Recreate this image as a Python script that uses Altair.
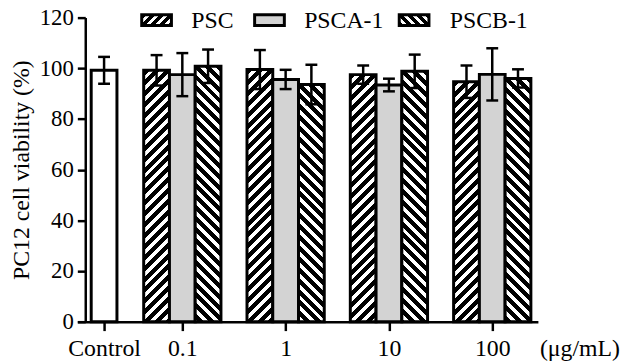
import altair as alt
import pandas as pd

# ---------------- data ----------------
doses = ["0.1", "1", "10", "100"]
series = ["PSC", "PSCA-1", "PSCB-1"]
control_mean = 99.2
control_sd = 5.3
psc_mean = [99.2, 99.5, 97.5, 94.7]
psc_sd = [6.0, 7.7, 3.6, 6.4]
psca_mean = [97.5, 95.6, 93.4, 97.6]
psca_sd = [8.5, 3.8, 2.5, 10.3]
pscb_mean = [100.8, 93.6, 98.8, 96.0]
pscb_sd = [6.6, 7.8, 6.6, 3.6]
tick_labels = ["Control"] + doses
unit_label = "(μg/mL)"
y_title = "PC12 cell viability (%)"
y_ticks = [0, 20, 40, 60, 80, 100, 120]

# ---------------- layout ----------------
W, H = 465, 307
YMAX = 120
CTRL_POS = 27
GROUP0 = 106
GROUP_STEP = 104.3
BAR_W = 26
CAP = 6
FONT = "Liberation Serif"
FS = 24
FS_Y = 23
LW = 2.5

means = [psc_mean, psca_mean, pscb_mean]
sds = [psc_sd, psca_sd, pscb_sd]
rows = [dict(label="Control", series="Control", mean=control_mean, sd=control_sd, center=CTRL_POS)]
for i, d in enumerate(doses):
    c = GROUP0 + GROUP_STEP * i
    for j, s in enumerate(series):
        rows.append(dict(label=d, series=s, mean=means[j][i], sd=sds[j][i], center=c + (j - 1) * BAR_W))
df = pd.DataFrame(rows)
df["x1"] = df["center"] - BAR_W / 2
df["x2"] = df["center"] + BAR_W / 2
df["lo"] = df["mean"] - df["sd"]
df["hi"] = df["mean"] + df["sd"]
df["c1"] = df["center"] - CAP
df["c2"] = df["center"] + CAP

tick_pos = [CTRL_POS] + [GROUP0 + GROUP_STEP * i for i in range(len(doses))]
expr = "''"
for k in range(len(tick_pos) - 1, -1, -1):
    if k == len(tick_pos) - 1:
        expr = f"'{tick_labels[k]}'"
    else:
        mid = (tick_pos[k] + tick_pos[k + 1]) / 2
        expr = f"datum.value < {mid:.2f} ? '{tick_labels[k]}' : ({expr})"


def hatch(w, h, direction, period=11.0, black=0.55):
    r = h / w
    gx = (1 + r) / (1 + r * r)
    gy = gx * r
    q = period / (w + h)
    stops = []
    t = 0.0
    while t < 1:
        a = round(t, 5)
        b = round(min(t + q * black, 1), 5)
        c = round(min(t + q, 1), 5)
        stops += [alt.GradientStop(offset=a, color="black"),
                  alt.GradientStop(offset=b, color="black"),
                  alt.GradientStop(offset=b, color="white"),
                  alt.GradientStop(offset=c, color="white")]
        t += q
    if direction == "/":
        x1, y1, x2, y2 = 0, 0, gx, gy
    else:
        x1, y1, x2, y2 = 1, 0, 1 - gx, gy
    return alt.LinearGradient(gradient="linear", stops=stops, x1=x1, y1=y1, x2=x2, y2=y2)


def fill_for(series_name, w, h, period=11.0):
    if series_name == "PSC":
        return hatch(w, h, "/", period)
    if series_name == "PSCB-1":
        return hatch(w, h, "\\", period)
    if series_name == "PSCA-1":
        return "#d3d3d3"
    return "white"


x_axis = alt.Axis(values=tick_pos, labelExpr=expr, title=None, tickSize=9, labelPadding=6,
                  labelFontSize=FS, labelFlush=False, labelOverlap=False, grid=False)
y_axis = alt.Axis(values=y_ticks, title=y_title, tickSize=8, labelPadding=4, labelFlush=False,
                  labelFontSize=FS_Y, titleFontSize=FS, offset=-8, grid=False, titlePadding=6)
x_scale = alt.Scale(domain=[0, W], nice=False, zero=False)
y_scale = alt.Scale(domain=[0, YMAX], nice=False)

layers = []
for k in range(len(df)):
    row = df.iloc[[k]]
    h = row["mean"].iloc[0] / YMAX * H
    layers.append(
        alt.Chart(row).mark_rect(fill=fill_for(row["series"].iloc[0], BAR_W, h), stroke="black",
                                 strokeWidth=3).encode(
            x=alt.X("x1:Q", scale=x_scale, axis=x_axis),
            x2="x2:Q",
            y=alt.Y("mean:Q", scale=y_scale, axis=y_axis),
            y2=alt.datum(0),
        )
    )

base = alt.Chart(df)
err = base.mark_rule(color="black", strokeWidth=LW).encode(
    x=alt.X("center:Q", scale=x_scale, axis=x_axis), y=alt.Y("lo:Q", scale=y_scale, axis=y_axis), y2="hi:Q")
cap_hi = base.mark_rule(color="black", strokeWidth=LW).encode(
    x=alt.X("c1:Q", scale=x_scale, axis=x_axis), x2="c2:Q", y=alt.Y("hi:Q", scale=y_scale, axis=y_axis))
cap_lo = base.mark_rule(color="black", strokeWidth=LW).encode(
    x=alt.X("c1:Q", scale=x_scale, axis=x_axis), x2="c2:Q", y=alt.Y("lo:Q", scale=y_scale, axis=y_axis))
layers += [err, cap_hi, cap_lo]

# legend (layout positions in pixels relative to plot area)
sym_x = [65, 179, 325]
txt_x = [115, 229, 376]
SYM_W, SYM_H, SYM_TOP = 30, 11, -3
for s, sx, tx in zip(series, sym_x, txt_x):
    ld = pd.DataFrame({"series": [s]})
    layers.append(
        alt.Chart(ld).mark_rect(fill=fill_for(s, SYM_W, SYM_H, period=9.0), stroke="black", strokeWidth=3).encode(
            x=alt.value(sx), x2=alt.value(sx + SYM_W), y=alt.value(SYM_TOP), y2=alt.value(SYM_TOP + SYM_H))
    )
    layers.append(
        alt.Chart(ld).mark_text(align="left", baseline="middle", font=FONT, fontSize=FS, color="black").encode(
            x=alt.value(tx), y=alt.value(SYM_TOP + SYM_H / 2 + 1), text="series:N")
    )

layers.append(
    alt.Chart(pd.DataFrame({"t": [unit_label]})).mark_text(
        align="left", baseline="middle", font=FONT, fontSize=FS, color="black").encode(
        x=alt.value(467), y=alt.value(335), text="t:N")
)

chart = alt.layer(*layers).properties(
    width=W, height=H,
    padding={"left": 70, "top": 8, "right": 95, "bottom": 40},
    autosize=alt.AutoSizeParams(type="none"),
).configure_view(stroke=None).configure_axis(
    labelFont=FONT, labelColor="black",
    titleFont=FONT, titleFontWeight="normal", titleColor="black",
    domainColor="black", domainWidth=LW, tickColor="black", tickWidth=LW,
)

chart.save("out.html", embed_options={"renderer": "svg", "actions": False})
